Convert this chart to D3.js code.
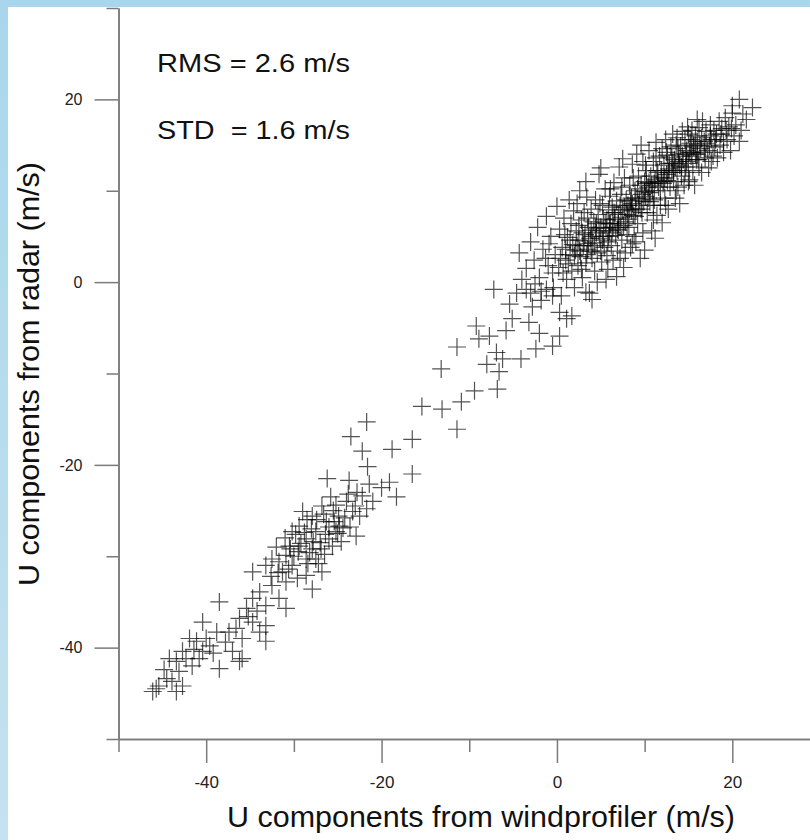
<!DOCTYPE html>
<html><head><meta charset="utf-8">
<script src="https://cdn.jsdelivr.net/npm/d3@7"></script>
<style>
body{margin:0;background:#fff;}
text{font-family:"Liberation Sans",Arial,sans-serif;}
</style>
</head><body>
<svg id="chart" width="810" height="840"></svg>
<script>
// ---- data ----
const upperCluster = [
[-4.3,3.2],[-3.5,1.5],[-3.0,4.4],[-2.6,2.4],[-2.2,6.0],[-2.0,0.5],[-1.6,3.6],[-1.2,7.2],[-1.0,1.8],[-0.7,5.0],[-0.4,-0.6],[-0.2,3.0],[0.0,8.3],[-1.8,-1.0],[-0.9,4.2],
[0.2,1.6],[0.3,5.8],[0.5,-1.5],[0.6,3.8],[0.8,7.0],[1.0,2.4],[1.1,0.3],[1.2,4.9],[1.4,9.0],[1.5,3.0],[1.6,6.4],[1.7,1.2],[1.8,4.1],[1.9,7.8],[2.0,-0.6],[0.9,5.2],[1.3,2.0],
[2.1,3.5],[2.2,5.6],[2.3,8.6],[2.4,1.8],[2.5,4.6],[2.6,10.0],[2.7,2.8],[2.8,6.8],[2.9,0.5],[3.0,4.0],[3.1,7.6],[3.2,5.2],[3.3,2.1],[3.4,9.3],[3.5,3.6],[3.6,6.0],[3.7,-1.2],[3.8,4.8],[3.9,8.0],[4.0,2.6],[2.5,6.2],[3.3,11.0],[3.9,5.7],
[4.1,4.3],[4.2,6.6],[4.3,1.2],[4.4,9.0],[4.5,5.4],[4.6,3.2],[4.7,7.4],[4.8,11.8],[4.9,4.8],[5.0,6.0],[5.1,2.2],[5.2,8.4],[5.3,5.0],[5.4,3.8],[5.5,10.2],[5.6,0.3],[5.7,6.8],[5.8,4.4],[5.9,7.9],[6.0,5.6],[4.4,5.9],[5.0,12.5],[5.3,6.9],[5.7,2.9],[6.0,9.4],[4.0,-1.9],[4.6,0.0],
[6.1,6.4],[6.2,4.0],[6.3,8.2],[6.4,2.4],[6.5,10.9],[6.6,6.9],[6.7,5.1],[6.8,8.9],[6.9,3.4],[7.0,7.4],[7.1,12.6],[7.2,6.0],[7.3,9.6],[7.4,4.6],[7.5,7.9],[7.6,1.6],[7.7,11.4],[7.8,6.6],[7.9,9.0],[8.0,5.2],[6.4,7.6],[7.0,5.7],[7.5,13.5],[6.8,0.6],[7.8,3.2],
[8.1,8.4],[8.2,6.0],[8.3,10.6],[8.4,3.8],[8.5,9.2],[8.6,12.9],[8.7,7.3],[8.8,5.0],[8.9,10.0],[9.0,8.0],[9.1,14.0],[9.2,6.4],[9.3,11.6],[9.4,9.0],[9.5,2.6],[9.6,10.6],[9.7,7.6],[9.8,13.2],[9.9,8.8],[10.0,11.0],[8.4,8.9],[9.0,4.4],[9.6,15.0],[10.0,3.5],
[10.1,9.4],[10.2,12.2],[10.3,7.6],[10.4,10.4],[10.5,14.4],[10.6,8.8],[10.7,11.6],[10.8,5.6],[10.9,10.0],[11.0,13.2],[11.1,9.0],[11.2,11.2],[11.3,15.3],[11.4,7.3],[11.5,12.0],[11.6,10.4],[11.7,13.8],[11.8,8.4],[11.9,11.4],[12.0,14.6],[10.5,10.9],[11.2,4.8],[12.0,6.5],
[12.1,10.8],[12.2,12.8],[12.3,9.2],[12.4,15.6],[12.5,11.8],[12.6,13.9],[12.7,8.0],[12.8,12.4],[12.9,10.4],[13.0,14.8],[13.1,12.0],[13.2,16.2],[13.3,11.0],[13.4,13.4],[13.5,9.2],[13.6,15.0],[13.7,12.2],[13.8,10.4],[13.9,14.0],[14.0,12.8],[12.6,11.1],[13.2,13.0],[14.0,8.6],
[14.1,14.9],[14.2,11.6],[14.3,16.5],[14.4,13.4],[14.5,10.6],[14.6,15.6],[14.7,12.6],[14.8,14.4],[14.9,17.0],[15.0,13.0],[15.1,11.2],[15.2,15.2],[15.3,13.8],[15.4,16.6],[15.5,12.2],[15.6,14.8],[15.7,10.6],[15.8,16.0],[15.9,13.4],[16.0,15.4],[14.6,12.0],[15.4,14.2],
[16.1,13.4],[16.2,16.9],[16.4,14.6],[16.5,12.0],[16.6,17.6],[16.8,15.4],[16.9,13.6],[17.0,16.5],[17.2,14.4],[17.3,12.5],[17.5,17.2],[17.6,15.6],[17.8,13.8],[17.9,16.6],[18.0,14.8],
[18.2,16.2],[18.3,13.6],[18.5,17.6],[18.6,15.0],[18.8,16.8],[19.0,14.2],[19.2,18.0],[19.4,15.6],[19.6,17.0],[19.8,14.4],[20.0,18.5],[20.2,16.0],
[20.4,17.2],[20.8,20.0],[20.8,15.4],[21.2,18.4],[21.6,17.8],[22.3,19.1],[20.0,19.3],[21.0,16.6]
];
const upperCore = [
[2.0,2.9],[2.6,3.4],[3.1,4.5],[3.6,4.2],[4.0,5.0],[4.3,4.0],[4.8,5.6],[5.2,4.6],[5.6,5.9],[6.0,6.4],[6.3,5.4],[6.6,7.6],[7.0,6.4],[7.3,7.1],[7.7,8.2],[8.0,7.4],[8.3,8.0],[8.6,8.6],[9.0,9.2],[9.3,8.4],
[9.7,9.6],[10.0,9.9],[10.4,9.2],[10.8,10.6],[11.1,10.8],[11.5,11.0],[11.9,12.2],[12.3,11.4],[12.7,12.0],[13.1,13.6],[13.5,12.6],[13.9,13.2],[14.3,13.8],[14.7,14.0],[15.1,14.2],[15.6,15.0],[16.0,14.0],[16.5,15.8],[17.0,15.2],[17.5,16.0],
[1.0,3.6],[1.5,4.6],[2.3,4.0],[2.9,5.4],[3.4,3.0],[3.9,3.4],[4.5,6.4],[5.0,3.4],[5.5,6.5],[5.9,5.0],[6.4,6.0],[6.9,5.8],[7.2,8.4],[7.6,6.2],[8.1,6.9],[8.5,7.8],[8.9,7.2],[9.2,10.2],[9.6,8.0],[10.2,10.8],
[10.6,9.8],[11.0,8.4],[11.4,12.2],[11.8,10.0],[12.2,11.0],[12.8,13.0],[13.3,12.2],[13.8,14.6],[14.2,12.6],[14.8,13.2],[15.3,15.6],[15.8,14.0],[16.3,15.0],[16.8,14.2],[17.4,14.9],[18.1,15.6],[18.7,16.2],[19.3,16.6],[19.9,16.8],
[0.4,2.6],[-0.5,1.0],[-1.3,2.6],[0.7,1.0],[2.8,1.4],[3.5,7.0],[4.9,8.6],[6.1,10.2],[7.4,10.4],[8.7,11.4],[10.1,12.8],[11.3,13.6],[12.5,14.2],[13.7,15.8],[15.0,16.2],[16.0,17.8],
[5.8,1.4],[7.2,2.6],[8.6,4.2],[9.8,5.4],[11.0,6.8],[12.4,8.4],[13.6,10.0],[15.0,11.0],[16.2,12.6],[17.6,13.2],[19.0,15.4]
];
const middlePoints = [
[-7.2,-0.8],[-5.4,-2.4],[-5.1,-4.0],[-3.5,-0.8],[-2.8,-2.7],[-3.2,-4.4],[-1.2,-0.8],[-0.5,-1.5],[0.3,-3.3],[1.1,-4.0],[1.7,-3.7],[3.3,-1.1],
[-9.2,-4.8],[-7.7,-5.9],[-8.9,-6.2],[-11.4,-7.1],[-13.2,-9.5],[-6.9,-7.7],[-6.2,-8.4],[-6.6,-9.8],[-4.1,-8.4],[-2.4,-7.3],[-0.5,-7.0],[0.3,-5.9],
[-6.8,-11.7],[-9.4,-11.9],[-10.9,-13.1],[-15.4,-13.6],[-13.1,-13.9],[-11.4,-16.1],[-16.5,-17.2],[-16.5,-21.0],[-5.8,-5.3],[-4.6,-1.2],[-2.0,-5.6],[-8.0,-9.0],[-1.8,-2.0],
[-3.0,-1.2],[-2.5,-0.2],[-4.0,0.3]
];
const lowerCluster = [
[-21.7,-15.3],[-23.5,-16.9],[-22.2,-18.5],[-18.8,-18.3],[-21.6,-20.2],[-26.2,-21.5],[-23.7,-21.7],[-19.1,-21.9],[-21.4,-22.1],[-18.3,-23.5],[-22.2,-23.4],
[-21.7,-24.8],[-22.5,-25.6],[-23.3,-25.1],[-22.9,-27.8],[-24.8,-26.7],[-26.0,-28.1],[-27.5,-27.3],[-28.6,-28.1],[-29.4,-28.9],[-27.9,-29.2],[-25.6,-28.9],
[-25.2,-27.3],[-26.3,-26.2],[-27.9,-25.6],[-29.0,-25.1],[-29.4,-26.7],[-30.2,-27.3],[-30.5,-28.9],[-30.9,-29.9],[-31.7,-30.6],[-32.5,-30.3],[-33.2,-31.0],
[-31.3,-31.7],[-30.2,-31.0],[-28.6,-30.3],[-27.5,-30.3],[-26.8,-31.7],[-27.9,-33.6],[-28.6,-32.1],[-30.9,-32.8],[-32.5,-33.2],[-34.7,-31.7],[-33.9,-33.9],
[-31.7,-34.6],[-30.9,-35.7],[-33.2,-35.4],[-34.7,-34.6],[-35.4,-35.7],[-36.2,-36.8],[-34.7,-37.2],[-33.9,-38.3],[-33.2,-37.6],[-36.6,-37.9],[-37.4,-38.3],
[-35.9,-39.0],[-33.2,-39.3],[-38.5,-35.0],[-37.0,-40.4],[-35.9,-41.2],[-38.5,-42.3],[-36.2,-41.5],[-40.4,-37.2],[-38.8,-38.3],[-40.0,-39.0],[-39.6,-39.8],
[-41.1,-39.3],[-40.4,-40.4],[-41.9,-39.0],[-42.7,-40.4],[-40.8,-41.2],[-41.6,-42.0],[-42.3,-41.2],[-43.4,-41.5],[-44.2,-41.2],[-43.1,-42.6],[-43.9,-43.7],
[-45.4,-44.2],[-42.7,-44.2],[-43.4,-44.8],[-44.5,-43.4],[-45.7,-44.5],[-46.1,-44.8],
[-24.0,-24.0],[-25.5,-25.0],[-26.8,-24.5],[-28.0,-27.0],[-29.5,-29.5],[-27.0,-28.5],[-26.0,-26.8],[-25.0,-27.5],[-24.2,-25.8],[-23.0,-24.5],[-28.5,-26.0],
[-30.0,-30.0],[-31.0,-28.0],[-27.2,-30.8],[-26.5,-29.8],[-28.2,-29.6],[-25.8,-23.5],[-24.6,-28.4],[-23.6,-26.8],[-29.8,-27.6],[-32.0,-29.0],[-30.6,-31.4],
[-22.8,-23.0],[-21.0,-24.0],[-20.0,-22.5],
[-27.4,-26.0],[-26.4,-27.6],[-25.4,-26.2],[-28.8,-27.4],[-27.8,-28.4],[-26.9,-29.2],[-25.2,-24.4],[-24.4,-26.9],[-29.2,-28.6],[-28.4,-30.8],[-30.4,-29.2],
[-23.8,-23.2],[-26.6,-25.4],[-24.9,-25.6],[-31.8,-31.8],[-32.6,-32.2],[-29.6,-32.4],[-35.2,-36.6],[-34.2,-36.0],[-37.8,-39.4],[-39.2,-40.6],[-41.4,-40.2],[-44.8,-42.4]
];
const xMajorTicks = [-40, -20, 0, 20];
const yMajorTicks = [-40, -20, 0, 20];
const xMinorTicks = [-50, -30, -10, 10, 30];
const yMinorTicks = [-50, -30, -10, 10, 30];
const statLines = ["RMS = 2.6 m/s", "STD  = 1.6 m/s"];
const xTitle = "U components from windprofiler (m/s)";
const yTitle = "U components from radar (m/s)";

// ---- drawing ----
const svg = d3.select("#chart");
const defs = svg.append("defs");
const g1 = defs.append("linearGradient").attr("id","bg").attr("x1","0").attr("y1","0").attr("x2","0").attr("y2","1");
g1.append("stop").attr("offset","0").attr("stop-color","#a9d6ec");
g1.append("stop").attr("offset","1").attr("stop-color","#c4e2ef");
svg.append("rect").attr("width",810).attr("height",840).attr("fill","url(#bg)");
svg.append("rect").attr("x",8).attr("y",7).attr("width",802).attr("height",833).attr("fill","#ffffff");

const x = d3.scaleLinear().domain([-50, 30]).range([118.5, 820]);
const y = d3.scaleLinear().domain([-50, 30]).range([739, 8]);

const axisColor = "#7a7a7a";
function styleAxis(sel){
  sel.selectAll("path,line").attr("stroke", axisColor).attr("stroke-width", 1.5);
}
// minor ticks
svg.append("g").attr("transform","translate(0,739)")
  .call(d3.axisBottom(x).tickValues(xMinorTicks).tickSize(13).tickSizeOuter(0).tickFormat(""))
  .call(styleAxis);
svg.append("g").attr("transform","translate(118.5,0)")
  .call(d3.axisLeft(y).tickValues(yMinorTicks).tickSize(12).tickSizeOuter(0).tickFormat(""))
  .call(styleAxis);
// major ticks
const xa = svg.append("g").attr("transform","translate(0,739)")
  .call(d3.axisBottom(x).tickValues(xMajorTicks).tickSize(24).tickSizeOuter(0).tickPadding(13).tickFormat(d => String(d)))
  .call(styleAxis);
xa.selectAll("text").attr("font-size",17).attr("fill","#222").attr("font-family","Liberation Sans, Arial, sans-serif");
const ya = svg.append("g").attr("transform","translate(118.5,0)")
  .call(d3.axisLeft(y).tickValues(yMajorTicks).tickSize(24).tickSizeOuter(0).tickPadding(12).tickFormat(d => String(d)))
  .call(styleAxis);
ya.selectAll("text").attr("font-size",16).attr("fill","#222").attr("font-family","Liberation Sans, Arial, sans-serif");

// points
const allPoints = upperCluster.concat(upperCore, middlePoints, lowerCluster);
svg.append("g").selectAll("path.pt").data(allPoints).join("path")
  .attr("class","pt")
  .attr("transform", d => `translate(${x(d[0])},${y(d[1])})`)
  .attr("d","M-9,0H9M0,-9V9")
  .attr("fill","none").attr("stroke","#000").attr("stroke-opacity",0.68).attr("stroke-width",1.2);

// stats text
svg.append("g").selectAll("text").data(statLines).join("text")
  .attr("x",157).attr("y",(d,i)=> i===0 ? 72 : 139)
  .attr("font-size",25).attr("fill","#111")
  .style("white-space","pre")
  .attr("textLength",193).attr("lengthAdjust","spacingAndGlyphs")
  .text(d=>d);

// axis titles
svg.append("text").attr("x",481).attr("y",827).attr("text-anchor","middle")
  .attr("font-size",30).attr("fill","#111")
  .attr("textLength",508).attr("lengthAdjust","spacingAndGlyphs").text(xTitle);
svg.append("text").attr("transform","translate(39,374) rotate(-90)").attr("text-anchor","middle")
  .attr("font-size",30).attr("fill","#111")
  .attr("textLength",424).attr("lengthAdjust","spacingAndGlyphs").text(yTitle);
</script>
</body></html>
